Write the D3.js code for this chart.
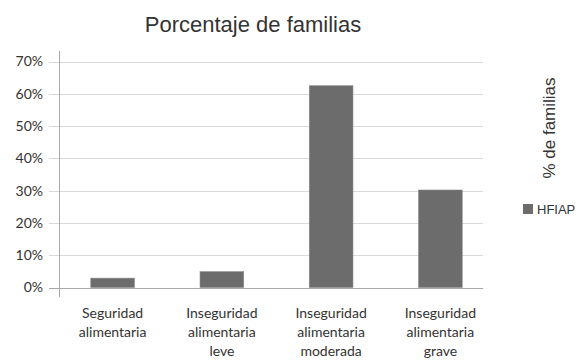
<!DOCTYPE html>
<html>
<head>
<meta charset="utf-8">
<script src="https://cdn.jsdelivr.net/npm/d3@7"></script>
<style>
  body { margin: 0; background: #fff; }
  svg { display: block; }
</style>
</head>
<body>
<div class="chart"></div>
<script>
// data
var categories = [
  ["Seguridad", "alimentaria"],
  ["Inseguridad", "alimentaria", "leve"],
  ["Inseguridad", "alimentaria", "moderada"],
  ["Inseguridad", "alimentaria", "grave"]
];
var values = [2.9, 4.9, 62.5, 30.2];
var yTicks = [0, 10, 20, 30, 40, 50, 60, 70];
var seriesName = "HFIAP";

var barColor = "#6c6c6c";
var labelFont = "Lato, 'Open Sans', sans-serif";

var svg = d3.select(".chart").append("svg")
  .attr("width", 581)
  .attr("height", 361);

var keys = categories.map(function(c, i) { return i; });

var x = d3.scaleBand()
  .domain(keys)
  .range([58, 495])
  .paddingInner(0.6)
  .paddingOuter(0.3);

var y = d3.scaleLinear()
  .domain([0, 70])
  .range([287.5, 61.5]);

// gridlines
svg.append("g")
  .selectAll("line")
  .data(yTicks)
  .enter().append("line")
  .attr("x1", 49)
  .attr("x2", 483)
  .attr("y1", function(d) { return Math.round(y(d)) + 0.5; })
  .attr("y2", function(d) { return Math.round(y(d)) + 0.5; })
  .attr("stroke", function(d) { return d === 0 ? "#a8a8a8" : "#d9d9d9"; })
  .attr("stroke-width", 1);

// y axis line
svg.append("line")
  .attr("x1", 59.5).attr("x2", 59.5)
  .attr("y1", 51).attr("y2", 297)
  .attr("stroke", "#a8a8a8");

// y labels
svg.append("g")
  .selectAll("text")
  .data(yTicks)
  .enter().append("text")
  .attr("x", 43)
  .attr("y", function(d) { return y(d); })
  .attr("dy", "0.35em")
  .attr("text-anchor", "end")
  .style("font-family", labelFont)
  .style("font-size", "14px")
  .style("fill", "#333")
  .text(function(d) { return d + "%"; });

// bars
svg.append("g")
  .selectAll("rect")
  .data(values)
  .enter().append("rect")
  .attr("x", function(d, i) { return x(i); })
  .attr("width", x.bandwidth())
  .attr("y", function(d) { return y(d); })
  .attr("height", function(d) { return y(0) - y(d); })
  .attr("fill", barColor)
  .attr("stroke", "#8a8a8a")
  .attr("stroke-width", 0.6);

// category labels
var catG = svg.append("g")
  .selectAll("text")
  .data(categories)
  .enter().append("text")
  .attr("x", function(d, i) { return x(i) + x.bandwidth() / 2; })
  .attr("y", 313)
  .attr("text-anchor", "middle")
  .style("font-family", labelFont)
  .style("font-size", "14px")
  .style("fill", "#333");

catG.selectAll("tspan")
  .data(function(d) { return d; })
  .enter().append("tspan")
  .attr("x", function() { return d3.select(this.parentNode).attr("x"); })
  .attr("dy", function(d, i) { return i === 0 ? "0.35em" : "19px"; })
  .text(function(d) { return d; });

// title
svg.append("text")
  .attr("x", 253)
  .attr("y", 32)
  .attr("text-anchor", "middle")
  .style("font-family", "'Liberation Sans', Arial, sans-serif")
  .style("font-size", "22px")
  .style("fill", "#333")
  .text("Porcentaje de familias");

// rotated axis title on the right
svg.append("text")
  .attr("transform", "translate(555,128) rotate(-90)")
  .attr("text-anchor", "middle")
  .style("font-family", "'Liberation Sans', Arial, sans-serif")
  .style("font-size", "17px")
  .style("fill", "#333")
  .text("% de familias");

// legend
svg.append("rect")
  .attr("x", 523).attr("y", 204)
  .attr("width", 10).attr("height", 10)
  .attr("fill", barColor);

svg.append("text")
  .attr("x", 537).attr("y", 209)
  .attr("dy", "0.35em")
  .style("font-family", "'Liberation Sans', Arial, sans-serif")
  .style("font-size", "13px")
  .style("fill", "#333")
  .text(seriesName);
</script>
</body>
</html>
